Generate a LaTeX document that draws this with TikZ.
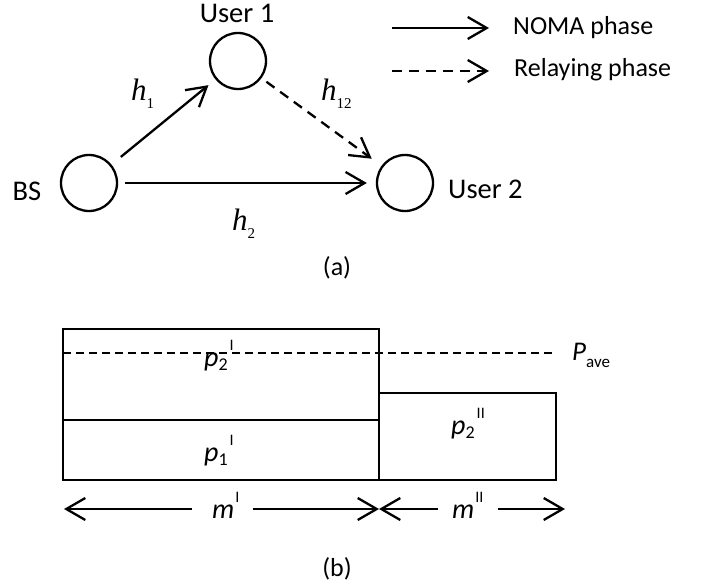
\documentclass[tikz,border=0pt]{standalone}
\usepackage{fontspec}
\setmainfont{Carlito}
\newfontfamily\timesfont{Liberation Serif}
\usetikzlibrary{arrows.meta}
\newcommand{\lowtxt}[1]{\raisebox{-4pt}{\fontsize{18}{18}\selectfont #1}}
\newcommand{\hightxt}[1]{\raisebox{16pt}{\fontsize{16}{16}\selectfont #1}}
\newcommand{\chan}[1]{{\timesfont\itshape h}\raisebox{-8pt}{\timesfont\fontsize{15}{15}\selectfont #1}}
\tikzset{
  station/.style={circle, draw, line width=2.3pt, minimum size=56pt, inner sep=0pt},
  txt/.style={inner sep=0pt, font=\fontsize{26}{30}\selectfont},
  usr/.style={inner sep=0pt, font=\fontsize{28.5}{32}\selectfont},
  hlbl/.style={inner sep=0pt, anchor=base west, font=\fontsize{31}{34}\selectfont},
  plbl/.style={inner sep=0pt, anchor=base west, font=\fontsize{28}{32}\selectfont},
  tip/.style={-{Straight Barb[length=19pt,width=22pt]}, line width=2.3pt},
  relay/.style={tip, dash pattern=on 10pt off 7pt},
  box/.style={line width=2.8pt},
  avg/.style={line width=2pt, dash pattern=on 8pt off 5pt},
}
\begin{document}
\begin{tikzpicture}[x=1pt,y=-1pt]
\useasboundingbox (0,0) rectangle (702,586);
% (a) network
\node[station] (v0) at (89,183) {};
\node[station] (v1) at (238,61) {};
\node[station] (v2) at (405,183) {};
\node[usr, anchor=base] (n0) at (27,200) {BS};
\node[usr, anchor=base] (n1) at (237,23) {User 1};
\node[usr, anchor=base west] (n2) at (448,198) {User 2};
\node[hlbl] (h1) at (131,100) {\chan{1}};
\node[hlbl] (h12) at (321,100) {\chan{12}};
\node[hlbl] (h2) at (232,230) {\chan{2}};
\draw [tip, shorten <=12pt, shorten >=9pt] (v0) edge (v1);
\draw [tip, shorten <=7pt, shorten >=9pt] (v0) edge (v2);
\draw [relay, shorten <=6pt, shorten >=12pt] (v1) edge (v2);
% legend
\coordinate (a0) at (392,28);
\coordinate (a1) at (489,28);
\coordinate (b0) at (392,71);
\coordinate (b1) at (489,71);
\draw [tip] (a0) -- (a1);
\draw [relay] (b0) -- (b1);
\node[txt, anchor=base west] (k0) at (513,35) {NOMA phase};
\node[txt, anchor=base west] (k1) at (514,77) {Relaying phase};
\node[txt] (ca) at (337,268) {(a)};
% (b) power allocation
\draw [box] (63,329) rectangle (379,480);
\draw [box] (63,420) -- (379,420);
\draw [box] (379,393) rectangle (556,480);
\draw [avg] (63,353) -- (556,353);
\node[plbl] (p2a) at (204,366) {\textit{p}\lowtxt{2}\kern2pt\hightxt{I}};
\node[plbl] (p1a) at (204,461) {\textit{p}\lowtxt{1}\kern2pt\hightxt{I}};
\node[plbl] (p2b) at (451,434) {\textit{p}\lowtxt{2}\kern2pt\hightxt{II}};
\node[inner sep=0pt, anchor=base west, font=\fontsize{27}{30}\selectfont] (pave) at (572,360) {\textit{P}\raisebox{-7pt}{\fontsize{17}{17}\selectfont ave}};
\node[plbl] (mI) at (212,518) {\textit{m}\kern1pt\hightxt{I}};
\node[plbl] (mII) at (452,518) {\textit{m}\kern1pt\hightxt{II}};
\coordinate (mIl) at (64,509);
\coordinate (mIr) at (379,509);
\coordinate (mIIl) at (379,509);
\coordinate (mIIr) at (565,509);
\draw [tip, shorten <=20pt] (mI.west |- mIl) -- (mIl);
\draw [tip, shorten <=13pt] (mI.east |- mIr) -- (mIr);
\draw [tip, shorten <=14pt] (mII.west |- mIIl) -- (mIIl);
\draw [tip, shorten <=14pt] (mII.east |- mIIr) -- (mIIr);
\node[txt] (cb) at (337,569) {(b)};
\end{tikzpicture}
\end{document}
